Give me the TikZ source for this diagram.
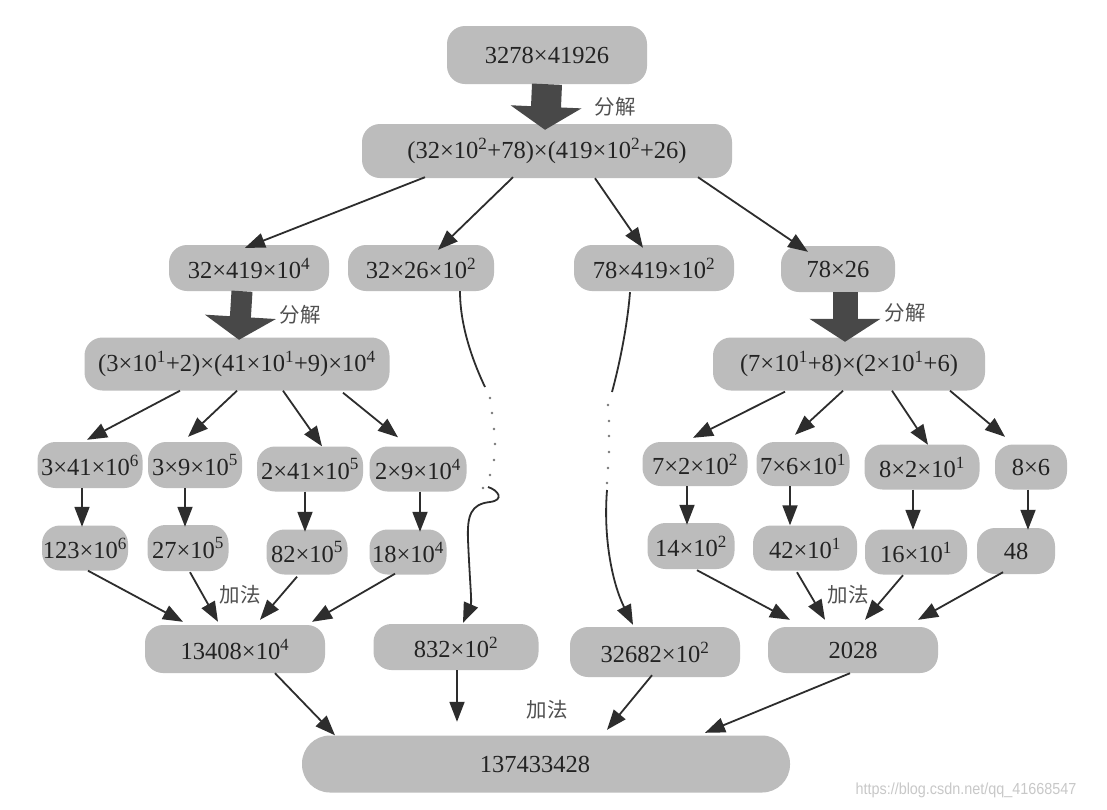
\documentclass[tikz,border=0pt]{standalone}
\usepackage{fontspec}
\setmainfont{Liberation Serif}
\newfontfamily\cjkfont{Noto Sans CJK SC}
\newfontfamily\wmfont[FakeStretch=0.9]{Liberation Sans}
\usetikzlibrary{arrows.meta,calc}
\definecolor{blobgray}{RGB}{188,188,188}
\definecolor{ink}{RGB}{35,35,35}
\definecolor{linkc}{RGB}{45,45,45}
\definecolor{bigc}{RGB}{72,72,72}
\definecolor{lblc}{RGB}{80,80,80}
\definecolor{wmc}{RGB}{200,200,200}
\definecolor{dotc}{RGB}{120,120,120}
\newcommand{\sq}[1]{\textsuperscript{#1}}
\begin{document}
\begin{tikzpicture}[x=1pt,y=-1pt,
  blob/.style={fill=blobgray, rounded corners=18pt, inner sep=0pt, text=ink,
    font=\fontsize{24.5}{27}\selectfont},
  conn/.style={draw=linkc, line width=1.8pt, -{Triangle[length=20pt,width=15pt]}},
  plainconn/.style={draw=linkc, line width=1.8pt},
  bigarrow/.style={draw=bigc, -{Triangle[length=23pt,width=70pt]}},
  lbl/.style={text=lblc, font=\cjkfont\fontsize{20.5}{22}\selectfont},
  dotmark/.style={fill=dotc},
]
\useasboundingbox (0,0) rectangle (1107,809);
\fill[white] (0,0) rectangle (1107,809);

% ---- nodes ----
\node[blob, minimum width=200, minimum height=58] (top) at (547,55) {3278×41926};
\node[blob, minimum width=370, minimum height=54] (n2) at (547,151) {(32×10\sq{2}+78)×(419×10\sq{2}+26)};

\node[blob, minimum width=160, minimum height=46] (a1) at (249,268) {32×419×10\sq{4}};
\node[blob, minimum width=146, minimum height=46] (a2) at (421,268) {32×26×10\sq{2}};
\node[blob, minimum width=160, minimum height=46] (a3) at (654,268) {78×419×10\sq{2}};
\node[blob, minimum width=114, minimum height=46] (a4) at (838,269) {78×26};

\node[blob, minimum width=305, minimum height=53] (L3) at (237,364) {(3×10\sq{1}+2)×(41×10\sq{1}+9)×10\sq{4}};
\node[blob, minimum width=272, minimum height=53] (R3) at (849,364) {(7×10\sq{1}+8)×(2×10\sq{1}+6)};

\node[blob, minimum width=105, minimum height=46] (b1) at (90,465) {3×41×10\sq{6}};
\node[blob, minimum width=94, minimum height=46] (b2) at (195,465) {3×9×10\sq{5}};
\node[blob, minimum width=106, minimum height=45] (b3) at (310,469) {2×41×10\sq{5}};
\node[blob, minimum width=97, minimum height=45] (b4) at (418,469) {2×9×10\sq{4}};

\node[blob, minimum width=86, minimum height=45] (c1) at (85,548) {123×10\sq{6}};
\node[blob, minimum width=81, minimum height=46] (c2) at (188,548) {27×10\sq{5}};
\node[blob, minimum width=81, minimum height=45] (c3) at (307,552) {82×10\sq{5}};
\node[blob, minimum width=77, minimum height=45] (c4) at (408,552) {18×10\sq{4}};

\node[blob, minimum width=180, minimum height=48] (d1) at (235,649) {13408×10\sq{4}};
\node[blob, minimum width=165, minimum height=46] (d2) at (456,647) {832×10\sq{2}};
\node[blob, minimum width=170, minimum height=50] (d3) at (655,652) {32682×10\sq{2}};
\node[blob, minimum width=170, minimum height=46] (d4) at (853,650) {2028};

\node[blob, minimum width=105, minimum height=44] (e1) at (695,464) {7×2×10\sq{2}};
\node[blob, minimum width=93, minimum height=44] (e2) at (803,464) {7×6×10\sq{1}};
\node[blob, minimum width=115, minimum height=45] (e3) at (922,467) {8×2×10\sq{1}};
\node[blob, minimum width=72, minimum height=45] (e4) at (1031,467) {8×6};

\node[blob, minimum width=87, minimum height=46] (f1) at (691,546) {14×10\sq{2}};
\node[blob, minimum width=104, minimum height=45] (f2) at (805,548) {42×10\sq{1}};
\node[blob, minimum width=102, minimum height=45] (f3) at (916,552) {16×10\sq{1}};
\node[blob, minimum width=78, minimum height=46] (f4) at (1016,551) {48};

\node[blob, rounded corners=28pt, minimum width=488, minimum height=57] (g) at (546,764) {\hspace*{-22pt}137433428};

% ---- labels ----
\node[lbl] (l1) at (615,107) {分解};
\node[lbl] (l2) at (300,315) {分解};
\node[lbl] (l3) at (905,313) {分解};
\node[lbl] (l4) at (240,595) {加法};
\node[lbl] (l5) at (848,595) {加法};
\node[lbl] (l6) at (547,710) {加法};
\node[anchor=west, text=wmc, font=\wmfont\fontsize{16}{18}\selectfont] (wm) at (852,790) {https://blog.csdn.net/qq\_41668547};

% ---- big decomposition arrows ----
\draw[bigarrow, line width=30pt] (top.south) -- ($(n2.north)+(-2,6)$);
\draw[bigarrow, line width=21pt] ($(a1.south)+(-7,0)$) -- ($(L3.north)+(2,2.5)$);
\draw[bigarrow, line width=25pt] ($(a4.south)+(7,0)$) -- ($(R3.north)+(-4,4.5)$);

% ---- level 1 -> 2 ----
\draw[conn] ($(n2.south)+(-122,-1)$) -- ($(a1.north)+(-4,3)$);
\draw[conn] ($(n2.south)+(-34,-1)$) -- ($(a2.north)+(17,5)$);
\draw[conn] ($(n2.south)+(48,0)$) -- ($(a3.north)+(-11,3)$);
\draw[conn] ($(n2.south)+(151,-1)$) -- ($(a4.north)+(-30,6)$);

% ---- left branch ----
\draw[conn] ($(L3.south)+(-57,0)$) -- ($(b1.north)+(-3,-2)$);
\draw[conn] ($(L3.south)+(0,0)$) -- ($(b2.north)+(-7,-5)$);
\draw[conn] ($(L3.south)+(46,0)$) -- ($(b3.north)+(12,0)$);
\draw[conn] ($(L3.south)+(106,2)$) -- ($(b4.north)+(-20,-9)$);

\draw[conn] ($(b1.south)+(-8,0)$) -- ($(c1.north)+(-3,1.5)$);
\draw[conn] ($(b2.south)+(-10,0)$) -- ($(c2.north)+(-3,2)$);
\draw[conn] ($(b3.south)+(-5,0)$) -- ($(c3.north)+(-2,2.5)$);
\draw[conn] ($(b4.south)+(2,0)$) -- ($(c4.north)+(12,2.5)$);

\draw[conn] ($(c1.south)+(3,0)$) -- ($(d1.north)+(-52,-3)$);
\draw[conn] ($(c2.south)+(2,1)$) -- ($(d1.north)+(-17,-3)$);
\draw[conn] ($(c3.south)+(-10,2)$) -- ($(d1.north)+(25,-5)$);
\draw[conn] ($(c4.south)+(-13,-1)$) -- ($(d1.north)+(77,-3)$);

% ---- right branch ----
\draw[conn] ($(R3.south)+(-64,1)$) -- ($(e1.north)+(-2,-4)$);
\draw[conn] ($(R3.south)+(-6,0)$) -- ($(e2.north)+(-8,-7)$);
\draw[conn] ($(R3.south)+(43,0)$) -- ($(e3.north)+(6,0.5)$);
\draw[conn] ($(R3.south)+(101,0)$) -- ($(e4.north)+(-26,-7.5)$);

\draw[conn] ($(e1.south)+(-8,0)$) -- ($(f1.north)+(-4,2)$);
\draw[conn] ($(e2.south)+(-13,0)$) -- ($(f2.north)+(-15,0)$);
\draw[conn] ($(e3.south)+(-9,0)$) -- ($(f3.north)+(-3,0.5)$);
\draw[conn] ($(e4.south)+(-3,0)$) -- ($(f4.north)+(12,2)$);

\draw[conn] ($(f1.south)+(6,1)$) -- ($(d4.north)+(-63,-7)$);
\draw[conn] ($(f2.south)+(-8,1.5)$) -- ($(d4.north)+(-28,-7)$);
\draw[conn] ($(f3.south)+(-13,0.5)$) -- ($(d4.north)+(12,-7)$);
\draw[conn] ($(f4.south)+(-13,-2)$) -- ($(d4.north)+(65,-7)$);

% ---- middle chains with omitted steps ----
\coordinate (lt) at (485,387);
\coordinate (lb) at (488,487);
\coordinate (rt) at (612,392);
\coordinate (rb) at (607,490);
\draw[plainconn] ($(a2.south)+(39,0)$) .. controls (460,330) and (476,368) .. (lt);
\foreach \p in {(490,398),(492,413),(494,429),(495,444),(494,460),(490,475),(483,488)}
  \fill[dotmark] \p circle (1.3);
\draw[conn] (lb) .. controls (498,490) and (505,500) .. (490,502)
  .. controls (471,504) and (467,515) .. (468,540)
  .. controls (470,585) and (472,602) .. ($(d2.north)+(7,-1)$);
\draw[plainconn] ($(a3.south)+(-24,1)$) .. controls (627,330) and (618,370) .. (rt);
\foreach \p in {(608,405),(609,421),(609,436),(609,452),(608,468),(607,483)}
  \fill[dotmark] \p circle (1.3);
\draw[conn] (rb) .. controls (603,540) and (613,585) .. ($(d3.north)+(-22,-2)$);

% ---- to the final sum ----
\draw[conn] ($(d1.south)+(40,0)$) -- ($(g.north)+(-211,0)$);
\draw[conn] ($(d2.south)+(1,0)$) -- ($(g.north)+(-89,-13.5)$);
\draw[conn] ($(d3.south)+(-3,-2)$) -- ($(g.north)+(61,-5.5)$);
\draw[conn] ($(d4.south)+(-3,0)$) -- ($(g.north)+(159,-2.5)$);
\end{tikzpicture}
\end{document}
